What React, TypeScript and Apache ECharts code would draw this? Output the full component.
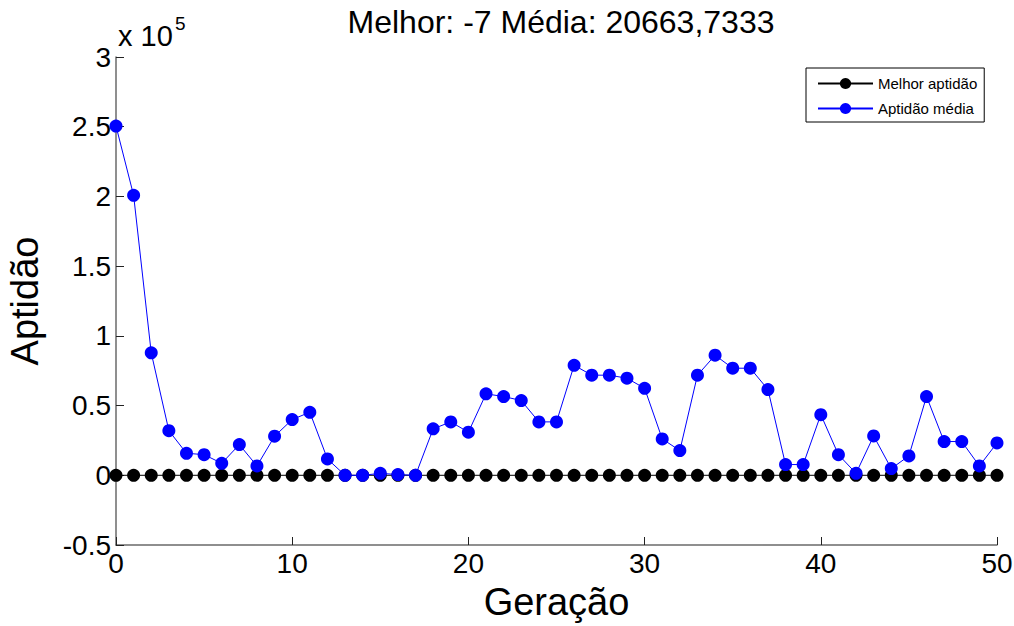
import React, { useEffect, useRef } from "react";
import * as echarts from "echarts";

const generations: number[] = Array.from({ length: 51 }, (_, i) => i);
const bestFitness: number[] = Array.from({ length: 51 }, () => -7);
const meanFitness: number[] = [
  250500, 200800, 87800, 32000, 15800, 14800, 8600, 22000, 6700, 28000,
  40000, 45200, 11700, 0, 0, 1400, 500, 0, 33300, 38300,
  30900, 58400, 56500, 53600, 38300, 38300, 78900, 71800, 71800, 69600,
  62400, 26100, 17700, 71800, 86100, 76800, 76800, 61500, 7700, 7700,
  43500, 14800, 1400, 28200, 4800, 13900, 56500, 24200, 24200, 6700,
  23200,
];
const titleText = "Melhor: -7 Média: 20663,7333";
const seriesNames = ["Melhor aptidão", "Aptidão média"];
const xTicks = [0, 10, 20, 30, 40, 50];
const yTickLabels = ["-0.5", "0", "0.5", "1", "1.5", "2", "2.5", "3"];

const FONT = "'Liberation Sans', Arial, Helvetica, sans-serif";

export default function App() {
  const ref = useRef<HTMLDivElement>(null);
  useEffect(() => {
    document.body.style.margin = "0";
    if (!ref.current) return;
    const chart = echarts.init(ref.current, undefined, { renderer: "svg" });
    const best = generations.map((g, i) => [g, bestFitness[i]]);
    const mean = generations.map((g, i) => [g, meanFitness[i]]);
    chart.setOption({
      animation: false,
      backgroundColor: "#ffffff",
      textStyle: { fontFamily: FONT },
      grid: {
        left: 116,
        right: 17,
        top: 57,
        bottom: 81,
        containLabel: false,
        outerBoundsMode: "none",
      },
      xAxis: {
        type: "value",
        min: xTicks[0],
        max: xTicks[xTicks.length - 1],
        interval: 10,
        name: "Geração",
        nameLocation: "middle",
        nameGap: 38,
        nameTextStyle: { fontSize: 38, color: "#000", fontFamily: FONT },
        axisLine: { show: true, onZero: false, lineStyle: { color: "#6a6a6a", width: 1.5 } },
        axisTick: { show: true, inside: true, length: 8, lineStyle: { color: "#222", width: 1 } },
        axisLabel: { fontSize: 28, color: "#000", margin: 4, fontFamily: FONT },
        splitLine: { show: false },
      },
      yAxis: {
        type: "value",
        min: -50000,
        max: 300000,
        interval: 50000,
        name: "Aptidão",
        nameLocation: "middle",
        nameGap: 72,
        nameTextStyle: { fontSize: 38, color: "#000", fontFamily: FONT },
        axisLine: { show: true, onZero: false, lineStyle: { color: "#6a6a6a", width: 1.5 } },
        axisTick: { show: true, inside: true, length: 8, lineStyle: { color: "#222", width: 1 } },
        axisLabel: {
          fontSize: 28,
          color: "#000",
          margin: 5,
          fontFamily: FONT,
          formatter: (v: number) => {
            const idx = Math.round((v + 50000) / 50000);
            return yTickLabels[idx] ?? "";
          },
        },
        splitLine: { show: false },
      },
      legend: {
        show: true,
        orient: "vertical",
        left: 806,
        top: 68,
        backgroundColor: "#fff",
        borderColor: "#000",
        borderWidth: 1,
        borderRadius: 0,
        padding: [8, 7, 6, 11],
        itemGap: 10,
        itemWidth: 55,
        itemHeight: 14,
        textStyle: { fontSize: 15, color: "#000", fontFamily: FONT },
        data: seriesNames,
      },
      graphic: [
        {
          type: "text",
          x: 561,
          y: 6,
          style: {
            text: titleText,
            fill: "#000",
            font: `32px ${FONT}`,
            textAlign: "center",
            textVerticalAlign: "top",
          },
        },
        {
          type: "text",
          x: 118,
          y: 21,
          style: {
            text: "x 10",
            fill: "#000",
            font: `29px ${FONT}`,
            textAlign: "left",
            textVerticalAlign: "top",
          },
        },
        {
          type: "text",
          x: 175,
          y: 14,
          style: {
            text: "5",
            fill: "#000",
            font: `19px ${FONT}`,
            textAlign: "left",
            textVerticalAlign: "top",
          },
        },
      ],
      series: [
        {
          name: seriesNames[0],
          type: "line",
          data: best,
          symbol: "circle",
          symbolSize: 13,
          lineStyle: { color: "#000", width: 1 },
          itemStyle: { color: "#000" },
          z: 2,
        },
        {
          name: seriesNames[1],
          type: "line",
          data: mean,
          symbol: "circle",
          symbolSize: 13,
          lineStyle: { color: "#0000ff", width: 1 },
          itemStyle: { color: "#0000ff" },
          z: 3,
        },
      ],
    });
    return () => chart.dispose();
  }, []);
  return (
    <div
      ref={ref}
      style={{ position: "fixed", left: 0, top: 0, width: 1014, height: 626 }}
    />
  );
}
